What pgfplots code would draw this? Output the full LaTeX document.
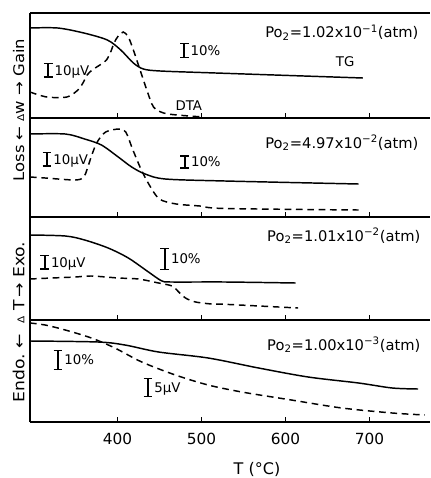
\documentclass[border=0pt]{standalone}
\usepackage{fontspec}
\setmainfont{DejaVu Sans}
\usepackage{pgfplots}
\pgfplotsset{compat=1.18}
\newfontfamily\widefont[FakeStretch=1.12]{DejaVu Sans}

\newcommand\sbar[1]{\raisebox{\dimexpr 3.7pt-#1/2\relax}{\rlap{\rule{6.5pt}{1.1pt}}\rlap{\raisebox{\dimexpr #1-1.1pt\relax}{\rule{6.5pt}{1.1pt}}}\hspace{2.6pt}\rule{1.3pt}{#1}\hspace{2.6pt}}\hspace{1.5pt}}
\newcommand\lbl{\fontsize{10}{12}\selectfont}
\newcommand\po{\fontsize{11}{13}\selectfont}

\pgfplotsset{
  panel/.style={scale only axis, width=300pt, xmin=296, xmax=772, ymin=0,
    clip=false, axis x line*=bottom, axis y line*=left,
    axis line style={-, line width=1.3pt},
    xtick={400,500,600,700}, ytick=\empty, tick align=inside,
    major tick length=4pt, tick style={line width=1pt, black},
    xticklabels={}, anchor=south west},
  tg/.style={line width=1.1pt, black, smooth, no marks},
  dta/.style={line width=1.1pt, black, smooth, no marks, dash pattern=on 5pt off 3.5pt},
}
\tikzset{bar/.style={anchor=west, inner sep=0pt, font=\lbl}}

\begin{document}
\begin{tikzpicture}
\useasboundingbox (0,0) rectangle (322.5pt,-358.5pt);

% Panel 1
\begin{axis}[panel, at={(22.5pt,-88.5pt)}, height=78.75pt, ymax=105]
\addplot[tg] coordinates {(296,90)(329,90)(360,85)(388,78)(404,68)(419,55)(431,49)(451,47)(517,45)(692,40)};
\addplot[dta] coordinates {(296,26)(316,21)(340,21)(353,28)(359,35)(364,43)(370,48)(381,54)(387,58)(392,66)(396,75)(401,82)(407,86)(413,81)(419,68)(427,48)(435,28)(443,11)(455,5)(471,3)(502,1)};
\draw[line width=1.3pt] (rel axis cs:0,1) -- (rel axis cs:1,1);
\node[anchor=base west, inner sep=0pt, font=\po] at (axis cs:575.8,80) {Po\textsubscript{2}=1.02x10\textsuperscript{−1}(atm)};
\node[font=\lbl, inner sep=0pt] at (axis cs:671,56) {TG};
\node[font=\lbl, inner sep=0pt] at (axis cs:485,12) {DTA};
\node[bar] at (axis cs:312.3,47.5) {\sbar{11.25pt}10μV};
\node[bar] at (axis cs:474.2,67.5) {\sbar{11.25pt}10\%};
\end{axis}

% Panel 2
\begin{axis}[panel, at={(22.5pt,-162.75pt)}, height=74.25pt, ymax=99]
\addplot[tg] coordinates {(296,83)(338,83)(361,78)(381,72)(401,60)(417,50)(433,43)(457,38)(528,36)(687,33)};
\addplot[dta] coordinates {(296,40)(314,39)(350,37)(360,40)(364,48)(370,63)(376,75)(386,85)(402,88)(410,85)(418,68)(428,48)(438,32)(450,18)(470,13)(498,11)(528,8.5)(687,7)};
\node[anchor=base west, inner sep=0pt, font=\po] at (axis cs:575.8,69) {Po\textsubscript{2}=4.97x10\textsuperscript{−2}(atm)};
\node[bar] at (axis cs:310.8,57.5) {\sbar{11.25pt}10μV};
\node[bar] at (axis cs:474.6,55) {\sbar{10.1pt}10\%};
\end{axis}

% Panel 3
\begin{axis}[panel, at={(22.5pt,-240pt)}, height=77.25pt, ymax=103]
\addplot[tg] coordinates {(296,85)(338,84)(361,80)(389,72)(413,62)(437,48)(453,39)(465,38)(528,38)(612,37)};
\addplot[dta] coordinates {(296,41)(322,42)(350,43)(369,44)(401,42)(425,41)(449,37)(465,34)(473,28)(481,22)(493,18)(512,16)(528,15.7)(615,12)};
\node[anchor=base west, inner sep=0pt, font=\po] at (axis cs:578,79) {Po\textsubscript{2}=1.01x10\textsuperscript{−2}(atm)};
\node[bar] at (axis cs:308,57.5) {\sbar{11.25pt}10μV};
\node[bar] at (axis cs:450.8,61) {\sbar{16.5pt}10\%};
\end{axis}

% Panel 4
\begin{axis}[panel, at={(22.5pt,-316.5pt)}, height=76.5pt, ymax=102,
  xticklabels={400,500,600,700},
  /pgf/number format/assume math mode=true,
  xticklabel style={font=\fontsize{11.5}{13}\selectfont, inner sep=0pt, yshift=-8pt}]
\addplot[tg] coordinates {(296,81)(377,80)(409,77)(449,70)(508,64)(568,54)(627,45)(687,39)(727,34)(758,33)};
\addplot[dta] coordinates {(296,99)(314,97)(338,92)(369,84)(397,74)(429,60)(469,47)(508,37)(548,30)(607,22)(667,14)(727,9)(766,7)};
\node[anchor=base west, inner sep=0pt, font=\po] at (axis cs:578,72) {Po\textsubscript{2}=1.00x10\textsuperscript{−3}(atm)};
\node[bar] at (axis cs:323.9,62) {\sbar{15pt}10\%};
\node[bar] at (axis cs:431,34.5) {\sbar{14.25pt}5μV};
\end{axis}

\node[rotate=90, inner sep=0pt, font=\fontsize{11}{13}\widefont] at (13.9pt,-82.5pt) {Loss ← {\fontsize{7}{7}\selectfont Δ}w → Gain};
\node[rotate=90, inner sep=0pt, font=\fontsize{11.5}{13}\widefont] at (13.9pt,-241.5pt) {Endo.\ ← \ {\fontsize{7}{7}\selectfont Δ}\ T\,→\ Exo.};
\node[inner sep=0pt, font=\fontsize{12}{14}\selectfont] at (192.75pt,-351.75pt) {T (°C)};
\end{tikzpicture}
\end{document}
